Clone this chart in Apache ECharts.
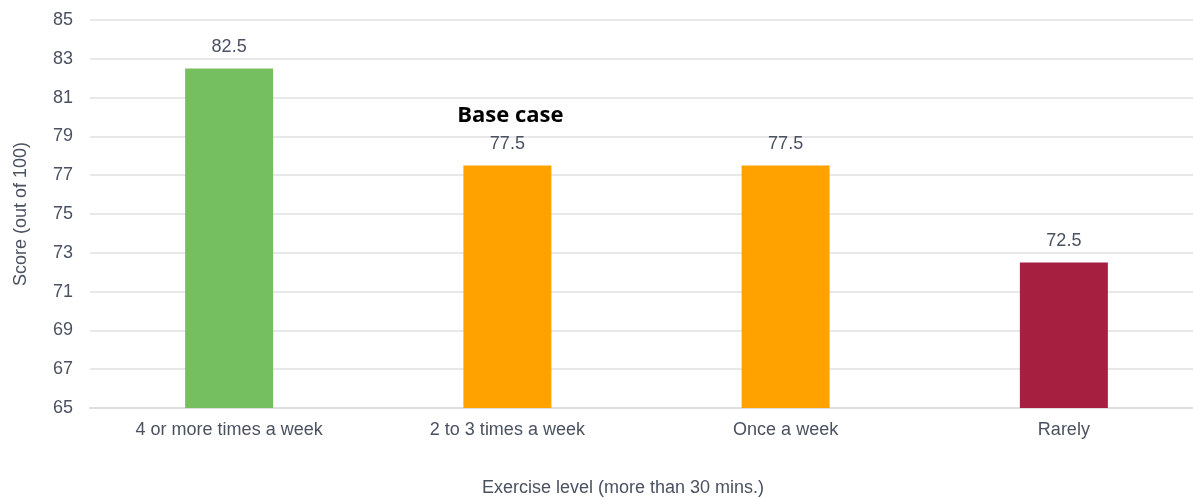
<!DOCTYPE html>
<html>
<head>
<meta charset="utf-8">
<title>Score by exercise level</title>
<script src="https://cdn.jsdelivr.net/npm/echarts@6/dist/echarts.min.js"></script>
<style>
  html, body { margin: 0; padding: 0; background: #ffffff; }
  #chart { width: 1193px; height: 499px; }
</style>
</head>
<body>
<div id="chart"></div>
<script>
// Exercise frequency categories and the matching scores (out of 100)
const categories = ['4 or more times a week', '2 to 3 times a week', 'Once a week', 'Rarely'];
const scores = [82.5, 77.5, 77.5, 72.5];
const baseCaseCategory = '2 to 3 times a week';
const yTicks = { min: 65, max: 85, step: 2 };

// Bar fill per category
const barColors = ['#75bf60', '#ffa200', '#ffa200', '#a61f41'];

const textColor = '#4a5160';
const sansFont = '"Liberation Sans", Arial, sans-serif';

const seriesData = scores.map(function (v, i) {
  const item = { value: v, itemStyle: { color: barColors[i] } };
  if (categories[i] === baseCaseCategory) {
    item.label = {
      formatter: '{b|Base case}\n{v|{c}}',
      rich: {
        b: {
          fontFamily: '"Open Sans", sans-serif',
          fontWeight: 'bold',
          fontSize: 22,
          color: '#000000',
          lineHeight: 40,
          padding: [0, 0, 0, 6]
        },
        v: {
          fontFamily: sansFont,
          fontSize: 18,
          color: textColor,
          lineHeight: 18
        }
      }
    };
  }
  return item;
});

const chart = echarts.init(document.getElementById('chart'), null, { renderer: 'canvas' });
chart.setOption({
  animation: false,
  backgroundColor: '#ffffff',
  grid: {
    left: 90,
    top: 20,
    right: -10,
    bottom: 91,
    containLabel: false,
    outerBoundsMode: 'none'
  },
  xAxis: {
    type: 'category',
    data: categories,
    name: 'Exercise level (more than 30 mins.)',
    nameLocation: 'middle',
    nameGap: 71,
    nameTextStyle: {
      fontFamily: sansFont,
      fontSize: 18,
      color: textColor,
      padding: [0, 47, 0, 0]
    },
    axisLine: { show: true, lineStyle: { color: '#dedede', width: 2 } },
    axisTick: { show: false },
    axisLabel: {
      fontFamily: sansFont,
      fontSize: 18,
      color: textColor,
      margin: 13,
      interval: 0
    }
  },
  yAxis: {
    type: 'value',
    min: yTicks.min,
    max: yTicks.max,
    interval: yTicks.step,
    name: 'Score (out of 100)',
    nameLocation: 'middle',
    nameRotate: 90,
    nameGap: 60,
    nameTextStyle: {
      fontFamily: sansFont,
      fontSize: 18,
      color: textColor
    },
    axisLine: { show: false },
    axisTick: { show: false },
    axisLabel: {
      fontFamily: sansFont,
      fontSize: 18,
      color: textColor,
      margin: 17
    },
    splitLine: { show: true, lineStyle: { color: '#e8e8e8', width: 2 } }
  },
  series: [{
    type: 'bar',
    data: seriesData,
    barWidth: 88,
    label: {
      show: true,
      position: 'top',
      distance: 12,
      fontFamily: sansFont,
      fontSize: 18,
      lineHeight: 18,
      color: textColor
    }
  }]
});
</script>
</body>
</html>
